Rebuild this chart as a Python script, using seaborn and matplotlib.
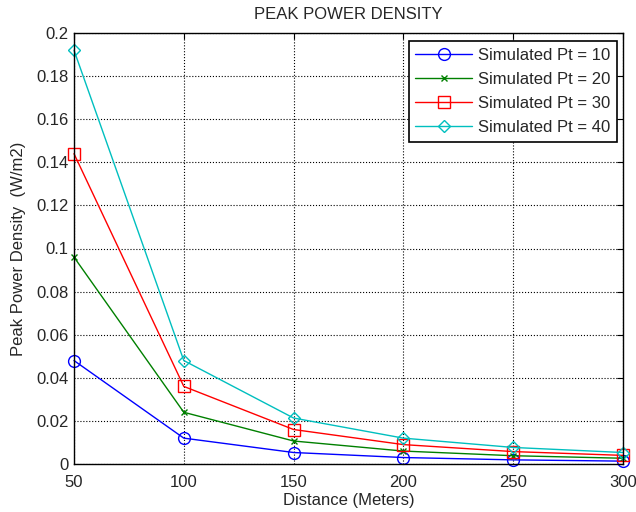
import matplotlib
matplotlib.use("Agg")
import matplotlib.pyplot as plt
import seaborn as sns
import pandas as pd

distance = [50, 100, 150, 200, 250, 300]
pd_pt10 = [0.048, 0.012, 0.00533, 0.0030, 0.00192, 0.00133]
pd_pt20 = [0.096, 0.024, 0.01067, 0.0060, 0.00384, 0.00267]
pd_pt30 = [0.144, 0.036, 0.0160, 0.0090, 0.00576, 0.0040]
pd_pt40 = [0.192, 0.048, 0.02133, 0.0120, 0.00768, 0.00533]
labels = ["Simulated Pt = 10", "Simulated Pt = 20", "Simulated Pt = 30", "Simulated Pt = 40"]

sns.set_style("white")
plt.rcParams['font.family'] = ['Liberation Sans', 'DejaVu Sans']

fig = plt.figure(figsize=(6.36, 5.12), dpi=100)
ax = fig.add_axes([74/636, 48/512, 549/636, 431/512])

series = [pd_pt10, pd_pt20, pd_pt30, pd_pt40]
colors = ["#0000ff", "#008000", "#ff0000", "#00bfbf"]
markers = ["o", "x", "s", "D"]
msizes = [8.5, 4.5, 8, 6.5]

for vals, lab, c, m, ms in zip(series, labels, colors, markers, msizes):
    df = pd.DataFrame({"d": distance, "v": vals})
    sns.lineplot(data=df, x="d", y="v", ax=ax, color=c, marker=m, markersize=ms,
                 markerfacecolor="none", markeredgecolor=c, markeredgewidth=1.0,
                 linewidth=1.0, label=lab, clip_on=False)

FS = 12
ax.set_xlim(50, 300)
ax.set_ylim(0, 0.2)
ax.set_xticks([50, 100, 150, 200, 250, 300])
ax.set_xticklabels(["50", "100", "150", "200", "250", "300"])
ax.set_yticks([0, 0.02, 0.04, 0.06, 0.08, 0.1, 0.12, 0.14, 0.16, 0.18, 0.2])
ax.set_yticklabels(["0", "0.02", "0.04", "0.06", "0.08", "0.1", "0.12", "0.14", "0.16", "0.18", "0.2"])
ax.grid(True, color="black", linestyle=":", linewidth=0.8)
ax.tick_params(direction="in", length=4, labelsize=FS, top=True, right=True, color="black")
ax.tick_params(axis="x", pad=8)
ax.tick_params(axis="y", pad=4)
for s in ax.spines.values():
    s.set_color("black")
    s.set_linewidth(1.0)
ax.set_xlabel("Distance (Meters)", fontsize=FS, labelpad=2)
ax.set_ylabel("Peak Power Density  (W/m2)", fontsize=FS, labelpad=7)
ax.set_title("PEAK POWER DENSITY", fontsize=FS, pad=10)

leg = ax.legend(loc="upper right", fontsize=FS, frameon=True, fancybox=False,
                edgecolor="black", framealpha=1, borderpad=0.4, labelspacing=0.55,
                handlelength=3.4, handletextpad=0.35, borderaxespad=0,
                bbox_to_anchor=(617/636, 1 - 41/512), bbox_transform=fig.transFigure)
leg.get_frame().set_linewidth(1.2)

fig.savefig("out.png", dpi=100)
